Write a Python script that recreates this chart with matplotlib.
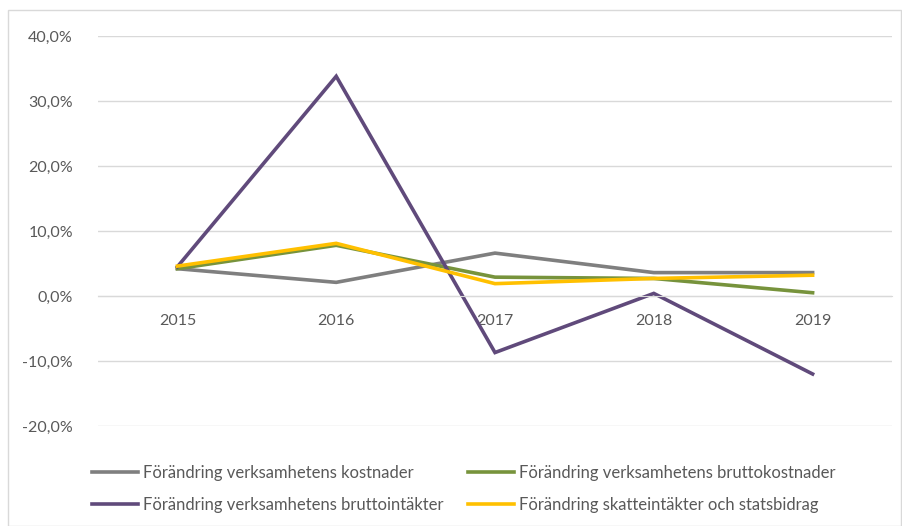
import matplotlib.pyplot as plt
from matplotlib.patches import Rectangle
from matplotlib.ticker import FuncFormatter

plt.rcParams['font.family'] = ['Lato', 'DejaVu Sans']

# Data
years = ["2015", "2016", "2017", "2018", "2019"]
kostnader = [4.2, 2.1, 6.6, 3.6, 3.6]
bruttokostnader = [4.2, 7.8, 2.9, 2.7, 0.5]
bruttointakter = [4.5, 33.8, -8.7, 0.4, -12.0]
skatteintakter = [4.6, 8.1, 1.9, 2.7, 3.2]

labels = ["Förändring verksamhetens kostnader",
          "Förändring verksamhetens bruttokostnader",
          "Förändring verksamhetens bruttointäkter",
          "Förändring skatteintäkter och statsbidrag"]
colors = ["#7f7f7f", "#77933c", "#604a7b", "#ffc000"]

fig = plt.figure(figsize=(9.02, 5.26), dpi=100)
ax = fig.add_axes([98 / 902, 1 - 426 / 526, (892 - 98) / 902, (426 - 36) / 526])

x = range(len(years))
series = [kostnader, bruttokostnader, bruttointakter, skatteintakter]
lines = []
for vals, lab, col in zip(series, labels, colors):
    ln, = ax.plot(x, vals, color=col, linewidth=2.6, label=lab, solid_joinstyle="miter")
    lines.append(ln)

ax.set_xlim(-0.5, len(years) - 0.5)
ax.set_ylim(-20, 40)
ax.set_yticks(range(-20, 41, 10))
ax.yaxis.set_major_formatter(FuncFormatter(lambda v, p: f"{v:.1f}%".replace(".", ",")))
ax.set_xticks(list(x))
ax.set_xticklabels(years)
ax.grid(axis="y", color="#d9d9d9", linewidth=1)
ax.set_axisbelow(True)
for s in ["top", "right", "left"]:
    ax.spines[s].set_visible(False)
ax.spines["bottom"].set_position(("data", 0))
ax.spines["bottom"].set_color("#d9d9d9")
ax.tick_params(axis="both", length=0, labelsize=11.5, colors="#595959")
ax.tick_params(axis="x", pad=13)
ax.tick_params(axis="y", pad=18)

# legend filled column-wise, so reorder to get Excel's row order
order = [0, 2, 1, 3]
fig.legend([lines[i] for i in order], [labels[i] for i in order],
           loc="upper left", bbox_to_anchor=(77 / 902, 1 - 450 / 526), ncol=2,
           frameon=False, fontsize=12, labelcolor="#595959",
           handlelength=2.75, handletextpad=0.3, columnspacing=1.5,
           labelspacing=0.95)
fig.add_artist(Rectangle((8 / 902, 0), (902 - 9) / 902, 1 - 10 / 526,
                         transform=fig.transFigure, fill=False,
                         edgecolor="#d9d9d9", linewidth=1))

fig.savefig("out.png", dpi=100)
